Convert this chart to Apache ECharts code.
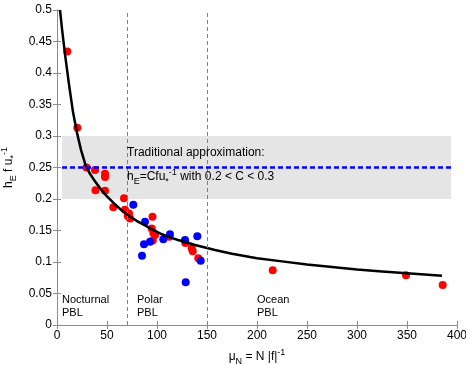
<!DOCTYPE html>
<html>
<head>
<meta charset="utf-8">
<script src="https://cdn.jsdelivr.net/npm/echarts@6/dist/echarts.min.js"></script>
<style>
  html, body { margin: 0; padding: 0; background: #fff; }
  #chart { width: 466px; height: 365px; }
</style>
</head>
<body>
<div id="chart"></div>
<script>
// red observations (mu_N, h_E f / u*)
const redX = [10.3, 20.3, 29.5, 38, 48, 48, 38.5, 48, 56.3, 67, 68, 70.7, 72, 73, 95.5, 94.7, 96.3, 98, 95.7, 112.3, 128.3, 134.7, 135.7, 141.3, 215.7, 349, 385.7];
const redY = [0.434, 0.313, 0.250, 0.246, 0.240, 0.235, 0.214, 0.213, 0.187, 0.201, 0.183, 0.173, 0.177, 0.169, 0.172, 0.153, 0.146, 0.143, 0.134, 0.140, 0.130, 0.122, 0.117, 0.106, 0.087, 0.079, 0.0635];

// blue observations
const blueX = [76.3, 88, 87, 93, 85, 106.3, 113, 128, 140.3, 143.7, 128.7];
const blueY = [0.191, 0.164, 0.128, 0.132, 0.110, 0.136, 0.144, 0.135, 0.141, 0.102, 0.068];

// fitted curve
const fitX = [3, 5, 8, 12, 16, 20, 24, 28.7, 33, 38, 44, 50, 57, 64, 71, 80, 88, 96, 105, 113, 121, 130, 138, 148, 158, 175, 200, 225, 250, 275, 300, 325, 350, 385];
const fitY = [0.5, 0.47, 0.43, 0.382, 0.338, 0.305, 0.278, 0.253, 0.240, 0.228, 0.215, 0.204, 0.193, 0.183, 0.174, 0.165, 0.158, 0.151, 0.144, 0.139, 0.135, 0.131, 0.127, 0.123, 0.119, 0.113, 0.106, 0.101, 0.096, 0.092, 0.088, 0.085, 0.082, 0.078];

// traditional approximation band and regime borders
const bandX = [5, 394];
const bandY = [0.2, 0.3];
const tradY = 0.25;
const regimeX = [70, 150];

const zip = (xs, ys) => xs.map((x, i) => [x, ys[i]]);

const chartDom = document.getElementById('chart');
const myChart = echarts.init(chartDom);

const font = 'Liberation Sans, Arial, sans-serif';
const axisGray = '#8c8c8c';

const richScript = {
    t: { fontSize: 12, lineHeight: 18, fontFamily: font, color: '#000' },
    sub: { fontSize: 9, lineHeight: 18, verticalAlign: 'bottom', fontFamily: font, color: '#000' },
    sup: { fontSize: 9, lineHeight: 18, verticalAlign: 'top', fontFamily: font, color: '#000' }
};

const option = {
    animation: false,
    textStyle: { fontFamily: font },
    grid: { left: 57, right: 9, top: 10, bottom: 40, containLabel: false, outerBoundsMode: 'none' },
    xAxis: [
        {
            type: 'value', min: 0, max: 400, interval: 50,
            axisLine: { lineStyle: { color: axisGray } },
            axisTick: { inside: true, length: 4, lineStyle: { color: axisGray } },
            axisLabel: { color: '#000', fontSize: 12, margin: 5, fontFamily: font },
            splitLine: { show: false },
            name: '{t|\u03bc}{sub|N}{t| = N |f|}{sup|-1}',
            nameLocation: 'middle', nameGap: 23,
            nameTextStyle: { color: '#000', fontFamily: font, rich: richScript }
        },
        {
            type: 'value', min: 0, max: 400, interval: 50, position: 'top',
            axisLine: { show: true, lineStyle: { color: axisGray } },
            axisTick: { show: true, inside: true, length: 4, lineStyle: { color: axisGray } },
            axisLabel: { show: false },
            splitLine: { show: false }
        }
    ],
    yAxis: [
        {
            type: 'value', min: 0, max: 0.5, interval: 0.05,
            axisLine: { show: true, lineStyle: { color: axisGray } },
            axisTick: { show: true, inside: true, length: 4, lineStyle: { color: axisGray } },
            axisLabel: { color: '#000', fontSize: 12, margin: 5, fontFamily: font },
            splitLine: { show: false },
            name: '{t|h}{sub|E}{t| f u}{sub|*}{sup|-1}',
            nameLocation: 'middle', nameGap: 31, nameRotate: 90,
            nameTextStyle: { color: '#000', fontFamily: font, rich: richScript }
        },
        {
            type: 'value', min: 0, max: 0.5, interval: 0.05, position: 'right',
            axisLine: { show: true, lineStyle: { color: axisGray } },
            axisTick: { show: true, inside: true, length: 4, lineStyle: { color: axisGray } },
            axisLabel: { show: false },
            splitLine: { show: false }
        }
    ],
    series: [
        {
            // grey band + regime borders + blue dashed line
            type: 'line', data: [], silent: true, z: 1,
            markArea: {
                silent: true,
                itemStyle: { color: '#e5e5e5' },
                data: [[{ xAxis: bandX[0], yAxis: bandY[0] }, { xAxis: bandX[1], yAxis: bandY[1] }]]
            },
            markLine: {
                silent: true, symbol: 'none', label: { show: false },
                lineStyle: { color: '#808080', type: [4, 3], width: 1 },
                data: [
                    { xAxis: regimeX[0] },
                    { xAxis: regimeX[1] },
                    [
                        { coord: [bandX[0], tradY], lineStyle: { color: '#0000ff', width: 2.5, type: [5, 3] } },
                        { coord: [bandX[1], tradY] }
                    ]
                ]
            }
        },
        {
            type: 'scatter', data: zip(redX, redY), symbolSize: 8, z: 3,
            itemStyle: { color: '#ff0000', opacity: 1 }
        },
        {
            type: 'scatter', data: zip(blueX, blueY), symbolSize: 8, z: 3,
            itemStyle: { color: '#0000ff', opacity: 1 }
        },
        {
            type: 'line', data: zip(fitX, fitY), smooth: false, symbol: 'none', z: 4,
            lineStyle: { color: '#000', width: 2.5, join: 'round' }
        }
    ],
    graphic: [
        {
            type: 'text', left: 127, top: 147, z: 10,
            style: { text: 'Traditional approximation:', font: '12px ' + font, fill: '#000' }
        },
        {
            type: 'text', left: 127, top: 168, z: 10,
            style: {
                text: '{t|h}{sub|E}{t|=Cfu}{sub|*}{sup|-1}{t| with 0.2 < C < 0.3}',
                fill: '#000',
                rich: {
                    t: { fontSize: 12, lineHeight: 18, fontFamily: font, fill: '#000' },
                    sub: { fontSize: 9, lineHeight: 18, verticalAlign: 'bottom', fontFamily: font, fill: '#000' },
                    sup: { fontSize: 9, lineHeight: 18, verticalAlign: 'top', fontFamily: font, fill: '#000' }
                }
            }
        },
        {
            type: 'text', left: 62, top: 293, z: 10,
            style: { text: 'Nocturnal\nPBL', font: '11px ' + font, fill: '#000', lineHeight: 13 }
        },
        {
            type: 'text', left: 137, top: 293, z: 10,
            style: { text: 'Polar\nPBL', font: '11px ' + font, fill: '#000', lineHeight: 13 }
        },
        {
            type: 'text', left: 257, top: 293, z: 10,
            style: { text: 'Ocean\nPBL', font: '11px ' + font, fill: '#000', lineHeight: 13 }
        }
    ]
};

option && myChart.setOption(option);
</script>
</body>
</html>
